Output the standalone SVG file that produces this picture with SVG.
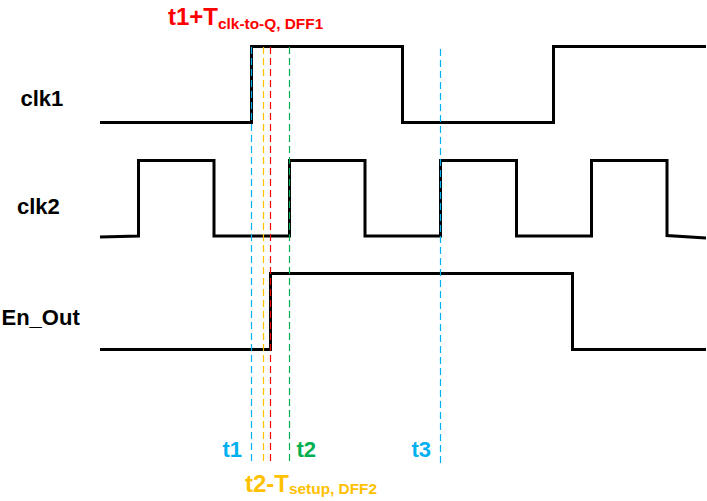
<svg xmlns="http://www.w3.org/2000/svg" width="707" height="501" viewBox="0 0 707 501">
<style>
.wave{fill:none;stroke:#000;stroke-width:3;stroke-linejoin:miter}
.dash{fill:none;stroke-width:1.2;stroke-dasharray:7 4}
.lbl{font-family:"Liberation Sans",Arial,sans-serif;font-weight:bold;font-size:22px;fill:#000}
.t{font-family:"Liberation Sans",Arial,sans-serif;font-weight:bold}
</style>
<rect width="707" height="501" fill="#fff"/>
<g id="clk1">
<path class="wave" d="M100,122.5 H251.5 V46.5 H402.5 V122.5 H553.5 V46.5 H706"/>
<text class="lbl" x="20.5" y="106">clk1</text>
</g>
<g id="clk2">
<path class="wave" d="M100,237 L138.5,236 V160.5 H214 V236 H289.5 V160.5 H365 V236 H440.5 V160.5 H516.5 V236 H591.5 V160.5 H667 V235.5 L706,238"/>
<text class="lbl" x="17" y="214">clk2</text>
</g>
<g id="en_out">
<path class="wave" d="M100,349.5 H270.5 V273.5 H572.5 V349.5 H706"/>
<text class="lbl" x="1.5" y="325">En_Out</text>
</g>
<g id="connectors">
<line class="dash" x1="251.5" y1="47" x2="251.5" y2="463" stroke="#00B0F0"/>
<line class="dash" x1="263.5" y1="47" x2="263.5" y2="463" stroke="#FFC000"/>
<line class="dash" x1="270.5" y1="47" x2="270.5" y2="463" stroke="#FF0000"/>
<line class="dash" x1="289.5" y1="47" x2="289.5" y2="463" stroke="#00B050"/>
<line class="dash" x1="440.5" y1="49" x2="440.5" y2="465" stroke="#00B0F0"/>
</g>
<g id="labels">
<text class="t" x="168" y="25" font-size="24" fill="#FF0000">t1+T<tspan font-size="15.4" dy="4">clk-to-Q, DFF1</tspan></text>
<text class="t" x="245" y="492" font-size="24" fill="#FFC000">t2-T<tspan font-size="15.4" dy="2">setup, DFF2</tspan></text>
<text class="t" x="222.5" y="457" font-size="22" fill="#00B0F0">t1</text>
<text class="t" x="296.5" y="457" font-size="22" fill="#00B050">t2</text>
<text class="t" x="411.5" y="457" font-size="22" fill="#00B0F0">t3</text>
</g>
</svg>
